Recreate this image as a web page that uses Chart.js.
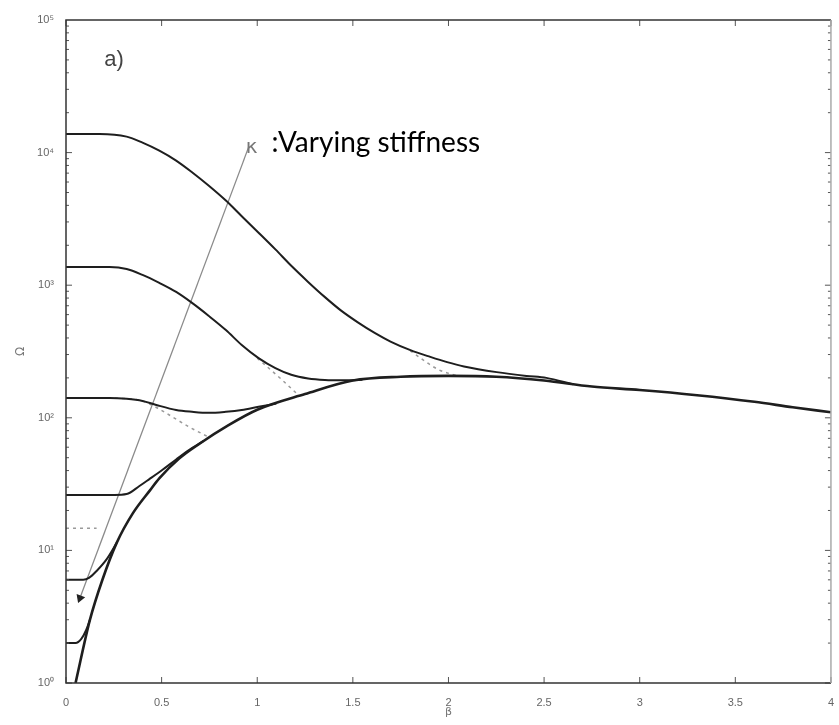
<!DOCTYPE html>
<html>
<head>
<meta charset="utf-8">
<script src="https://cdn.jsdelivr.net/npm/chart.js@4.4.0/dist/chart.umd.min.js"></script>
<style>
  body { margin: 0; background: #fff; }
  #wrap { width: 839px; height: 725px; }
</style>
</head>
<body>
<div id="wrap"><canvas id="grafico"></canvas></div>
<script>
// ejes
const xTicks = [0, 0.5, 1, 1.5, 2, 2.5, 3, 3.5, 4];
const yTicks = [1, 10, 100, 1000, 10000, 100000];
const yTickLabels = ["10⁰", "10¹", "10²", "10³", "10⁴", "10⁵"];

// envolvente inferior (curva gruesa)
const envBeta  = [0.05, 0.125, 0.19, 0.265, 0.35, 0.44, 0.49, 0.59, 0.7, 0.85, 1.0, 1.25, 1.5, 1.75, 2.0, 2.25, 2.5, 2.75, 3.0, 3.3, 3.6, 3.8, 4.0];
const envOmega = [1.0, 2.99, 5.98, 11.4, 19.1, 28.5, 35.2, 49, 64, 88, 115, 151, 191, 204, 207, 204, 191, 172, 162, 148, 132, 120, 110];

// curvas para distintas rigideces (de mayor a menor)
const k1Beta  = [0, 0.176, 0.317, 0.4, 0.488, 0.576, 0.659, 0.747, 0.836, 0.919, 1.007, 1.095, 1.178, 1.266, 1.354, 1.437, 1.526, 1.614, 1.697, 1.801, 1.905, 1.993, 2.081, 2.252, 2.408, 2.512, 2.65];
const k1Omega = [13800, 13800, 13200, 11900, 10350, 8710, 7110, 5620, 4345, 3311, 2489, 1862, 1400, 1059, 813, 646, 525, 437, 376, 324, 288, 263, 244, 221, 207, 200, 179];

const k2Beta  = [0, 0.228, 0.317, 0.4, 0.488, 0.576, 0.659, 0.747, 0.836, 0.919, 1.007, 1.095, 1.178, 1.266, 1.354, 1.45, 1.55];
const k2Omega = [1370, 1370, 1325, 1195, 1040, 889, 735, 586, 459, 354, 282, 237, 211, 198, 193, 192, 194];

const k3Beta  = [0, 0.228, 0.317, 0.4, 0.472, 0.576, 0.659, 0.747, 0.836, 0.919, 1.007, 1.1];
const k3Omega = [141, 141, 139, 134, 125, 114.5, 111, 109, 111, 114.5, 121, 128];

const k4Beta  = [0, 0.254, 0.317, 0.384, 0.436, 0.503, 0.576, 0.643, 0.72];
const k4Omega = [26.2, 26.2, 26.6, 30.6, 34.5, 40.4, 48.5, 57, 67];

const k5Beta  = [0, 0.09, 0.12, 0.16, 0.213, 0.265];
const k5Omega = [6.0, 6.0, 6.2, 7.0, 8.6, 11.4];

const k6Beta  = [0, 0.05, 0.08, 0.105, 0.125];
const k6Omega = [2.0, 2.0, 2.15, 2.5, 2.99];

// curvas punteadas
const d1Beta  = [0, 0.3, 0.4, 0.48, 0.54, 0.64, 0.75];
const d1Omega = [141, 140, 134, 118, 105, 86, 71];
const d2Beta  = [1.0, 1.13, 1.22];
const d2Omega = [282, 193, 146];
const d3Beta  = [1.8, 1.95, 2.05];
const d3Omega = [320, 230, 207];
const d4Beta  = [0, 0.16];
const d4Omega = [14.7, 14.7];

// flecha de rigidez variable
const kappaBeta  = [0.073, 0.955];
const kappaOmega = [4.37, 11000];

function pares(bs, os) {
    return bs.map((b, i) => ({ x: b, y: os[i] }));
}

function curva(bs, os, ancho) {
    return {
        data: pares(bs, os),
        borderColor: "#1e1e1e",
        borderWidth: ancho,
        pointRadius: 0,
        fill: false,
        cubicInterpolationMode: "monotone"
    };
}

function punteada(bs, os) {
    return {
        data: pares(bs, os),
        borderColor: "#9a9a9a",
        borderWidth: 1.5,
        borderDash: [3, 4],
        pointRadius: 0,
        fill: false,
        cubicInterpolationMode: "monotone"
    };
}

// marco, marcas interiores y textos
const marco = {
    id: "marco",
    afterDatasetsDraw(chart) {
        const { ctx, chartArea: a, scales: { x, y } } = chart;
        ctx.save();
        ctx.strokeStyle = "#555";
        ctx.lineWidth = 1;
        ctx.beginPath();
        xTicks.forEach((v) => {
            const px = x.getPixelForValue(v);
            ctx.moveTo(px, a.bottom); ctx.lineTo(px, a.bottom - 6);
            ctx.moveTo(px, a.top); ctx.lineTo(px, a.top + 6);
        });
        for (let d = 0; d < 5; d++) {
            for (let m = 1; m <= 9; m++) {
                const py = y.getPixelForValue(m * Math.pow(10, d));
                const len = m === 1 ? 6 : 3;
                ctx.moveTo(a.left, py); ctx.lineTo(a.left + len, py);
                ctx.moveTo(a.right, py); ctx.lineTo(a.right - len, py);
            }
        }
        ctx.stroke();

        // recuadro: lado derecho mas claro
        ctx.lineWidth = 1.5;
        ctx.strokeStyle = "#333";
        ctx.beginPath();
        ctx.moveTo(a.right, a.top); ctx.lineTo(a.left, a.top);
        ctx.lineTo(a.left, a.bottom); ctx.lineTo(a.right, a.bottom);
        ctx.stroke();
        ctx.strokeStyle = "#aaa";
        ctx.beginPath();
        ctx.moveTo(a.right, a.top); ctx.lineTo(a.right, a.bottom);
        ctx.stroke();

        ctx.fillStyle = "#444";
        ctx.font = "22px 'Liberation Sans'";
        ctx.textBaseline = "middle";
        ctx.fillText("a)", x.getPixelForValue(0.2), y.getPixelForValue(Math.pow(10, 4.7)));

        ctx.fillStyle = "#777";
        ctx.font = "20px 'DejaVu Sans'";
        ctx.textBaseline = "alphabetic";
        ctx.fillText("κ", x.getPixelForValue(0.94), y.getPixelForValue(Math.pow(10, 4.0)));

        ctx.fillStyle = "#000";
        ctx.font = "28px Lato";
        ctx.fillText(":Varying stiffness", x.getPixelForValue(1.074), y.getPixelForValue(Math.pow(10, 4.005)));
        ctx.restore();
    }
};

const ctx = document.getElementById("grafico").getContext("2d");
window.myChart = new Chart(ctx, {
    type: "line",
    data: {
        datasets: [
            curva(envBeta, envOmega, 2.6),
            curva(k1Beta, k1Omega, 2),
            curva(k2Beta, k2Omega, 2),
            curva(k3Beta, k3Omega, 2),
            curva(k4Beta, k4Omega, 2),
            curva(k5Beta, k5Omega, 2),
            curva(k6Beta, k6Omega, 2),
            punteada(d1Beta, d1Omega),
            punteada(d2Beta, d2Omega),
            punteada(d3Beta, d3Omega),
            punteada(d4Beta, d4Omega),
            {
                data: pares(kappaBeta, kappaOmega),
                borderColor: "#8a8a8a",
                borderWidth: 1.3,
                pointStyle: "triangle",
                pointRadius: [4, 0],
                rotation: 200.7,
                pointBackgroundColor: "#222",
                pointBorderColor: "#222",
                fill: false
            }
        ]
    },
    options: {
        responsive: true,
        maintainAspectRatio: false,
        animation: false,
        layout: { padding: { top: 20, right: 2, left: 0, bottom: 0 } },
        plugins: {
            legend: { display: false },
            tooltip: { enabled: false }
        },
        scales: {
            x: {
                type: "linear",
                min: 0,
                max: 4,
                afterBuildTicks: (s) => { s.ticks = xTicks.map((v) => ({ value: v })); },
                afterFit: (s) => { s.height = 42; },
                grid: { display: false },
                border: { display: false },
                ticks: {
                    padding: 5,
                    color: "#666",
                    font: { family: "Liberation Sans", size: 11 },
                    maxRotation: 0,
                    callback: (v) => String(v)
                },
                title: {
                    display: true,
                    text: "β",
                    color: "#777",
                    font: { family: "DejaVu Sans", size: 11 },
                    padding: { top: 0, bottom: 6 }
                }
            },
            y: {
                type: "logarithmic",
                min: 1,
                max: 100000,
                afterBuildTicks: (s) => { s.ticks = yTicks.map((v) => ({ value: v })); },
                afterFit: (s) => { s.width = 66; },
                grid: { display: false },
                border: { display: false },
                ticks: {
                    padding: 4,
                    color: "#666",
                    font: { family: "Liberation Sans", size: 11 },
                    callback: (v) => yTickLabels[yTicks.indexOf(v)]
                },
                title: {
                    display: true,
                    text: "Ω",
                    color: "#777",
                    font: { family: "DejaVu Sans", size: 12 },
                    padding: { top: 14, bottom: 0 }
                }
            }
        }
    },
    plugins: [marco]
});
</script>
</body>
</html>
